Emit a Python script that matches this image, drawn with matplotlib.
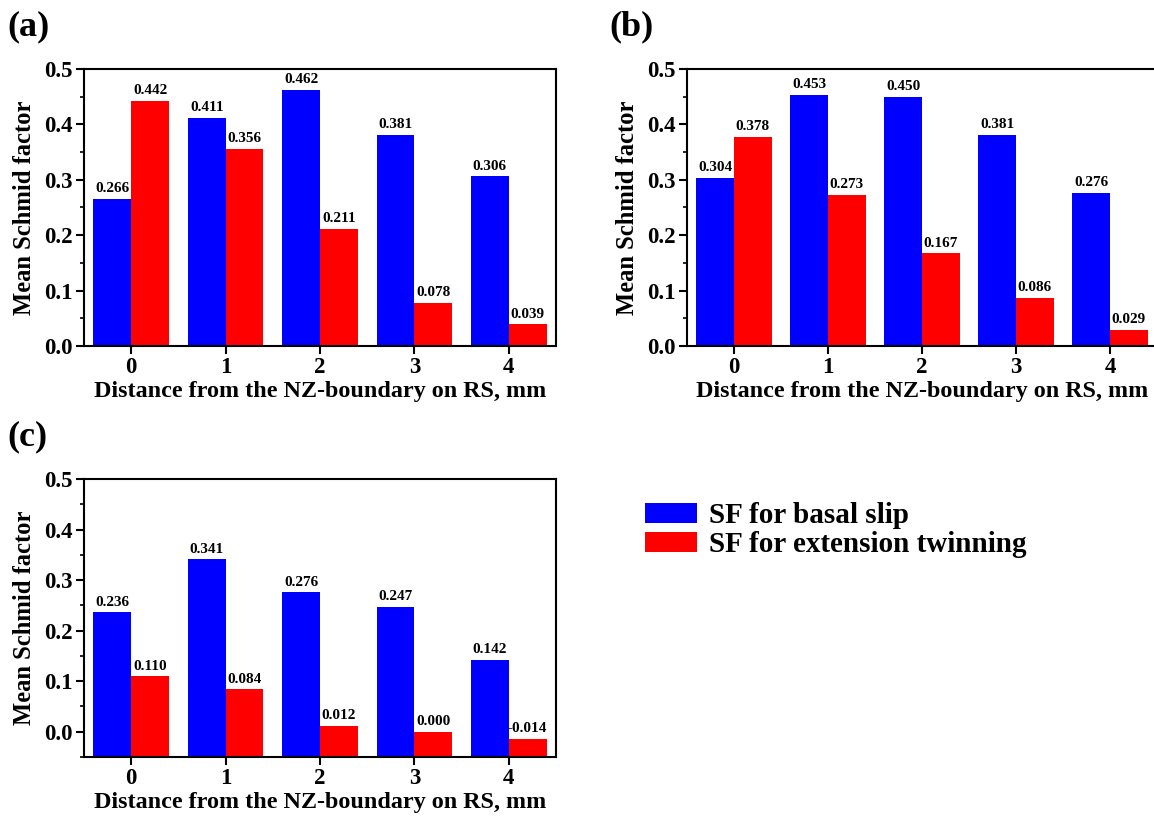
import numpy as np
import matplotlib
matplotlib.use('Agg')
import matplotlib.pyplot as plt
from matplotlib.ticker import MultipleLocator, FormatStrFormatter

# Distance from the NZ-boundary (mm)
distance = [0, 1, 2, 3, 4]

# Mean Schmid factors for each panel
basal_a = [0.266, 0.411, 0.462, 0.381, 0.306]
twin_a = [0.442, 0.356, 0.211, 0.078, 0.039]

basal_b = [0.304, 0.453, 0.450, 0.381, 0.276]
twin_b = [0.378, 0.273, 0.167, 0.086, 0.029]

basal_c = [0.236, 0.341, 0.276, 0.247, 0.142]
twin_c = [0.110, 0.084, 0.012, 0.000, -0.014]

labels = ['SF for basal slip', 'SF for extension twinning']

plt.rcParams['font.family'] = 'Liberation Serif'
plt.rcParams['font.weight'] = 'bold'
plt.rcParams['axes.labelweight'] = 'bold'

fig = plt.figure(figsize=(11.54, 8.17), dpi=100)

W, H = 1154.0, 817.0


def make_axes(left, top, right, bottom):
    return fig.add_axes([left / W, 1 - bottom / H, (right - left) / W, (bottom - top) / H])


def draw_panel(ax, basal, twin, ymin, tag, tag_xy):
    x = np.array(distance)
    w = 0.4
    # bars start from the bottom of the axis, like the original software does
    b1 = ax.bar(x - w / 2, np.array(basal) - ymin, w, bottom=ymin, color='#0000ff',
                edgecolor='none')
    b2 = ax.bar(x + w / 2, np.array(twin) - ymin, w, bottom=ymin, color='#ff0000',
                edgecolor='none')
    for xi, v in zip(x, basal):
        ax.text(xi - w / 2, v + 0.007, f'{v:.3f}', ha='center', va='bottom', fontsize=11)
    for xi, v in zip(x, twin):
        ax.text(xi + w / 2, v + 0.007, f'{v:.3f}', ha='center', va='bottom', fontsize=11)

    ax.set_xlim(-0.5, 4.5)
    ax.set_ylim(ymin, 0.5)
    ax.set_xticks(x)
    ax.set_xticklabels([str(d) for d in distance])
    ax.yaxis.set_major_locator(MultipleLocator(0.1))
    ax.yaxis.set_minor_locator(MultipleLocator(0.05))
    ax.yaxis.set_major_formatter(FormatStrFormatter('%.1f'))
    ax.tick_params(axis='both', which='major', direction='out', length=6, width=1.5,
                   labelsize=16.5)
    ax.tick_params(axis='x', which='major', pad=2)
    ax.tick_params(axis='y', which='major', pad=2)
    ax.tick_params(axis='y', which='minor', direction='out', length=3, width=1.2)
    for s in ax.spines.values():
        s.set_linewidth(1.5)

    ax.set_xlabel('Distance from the NZ-boundary on RS, mm', fontsize=17.4, labelpad=2)
    ax.set_ylabel('Mean Schmid factor', fontsize=17.7, labelpad=6)
    fig.text(tag_xy[0] / W, 1 - tag_xy[1] / H, tag, fontsize=26, ha='left', va='top')
    return b1, b2


ax_a = make_axes(84, 69, 556, 346)
ax_b = make_axes(687, 69, 1157, 346)
ax_c = make_axes(84, 479, 556, 757)

draw_panel(ax_a, basal_a, twin_a, 0.0, '(a)', (7, 10))
draw_panel(ax_b, basal_b, twin_b, 0.0, '(b)', (609, 10))
h1, h2 = draw_panel(ax_c, basal_c, twin_c, -0.05, '(c)', (7, 420))

fig.legend([h1, h2], labels, loc='upper left', bbox_to_anchor=(645 / W, 1 - 502 / H),
           frameon=False, fontsize=21, handlelength=1.8, handleheight=0.7,
           handletextpad=0.38, labelspacing=0.07, borderpad=0, borderaxespad=0)

fig.savefig('out.png', dpi=100)
